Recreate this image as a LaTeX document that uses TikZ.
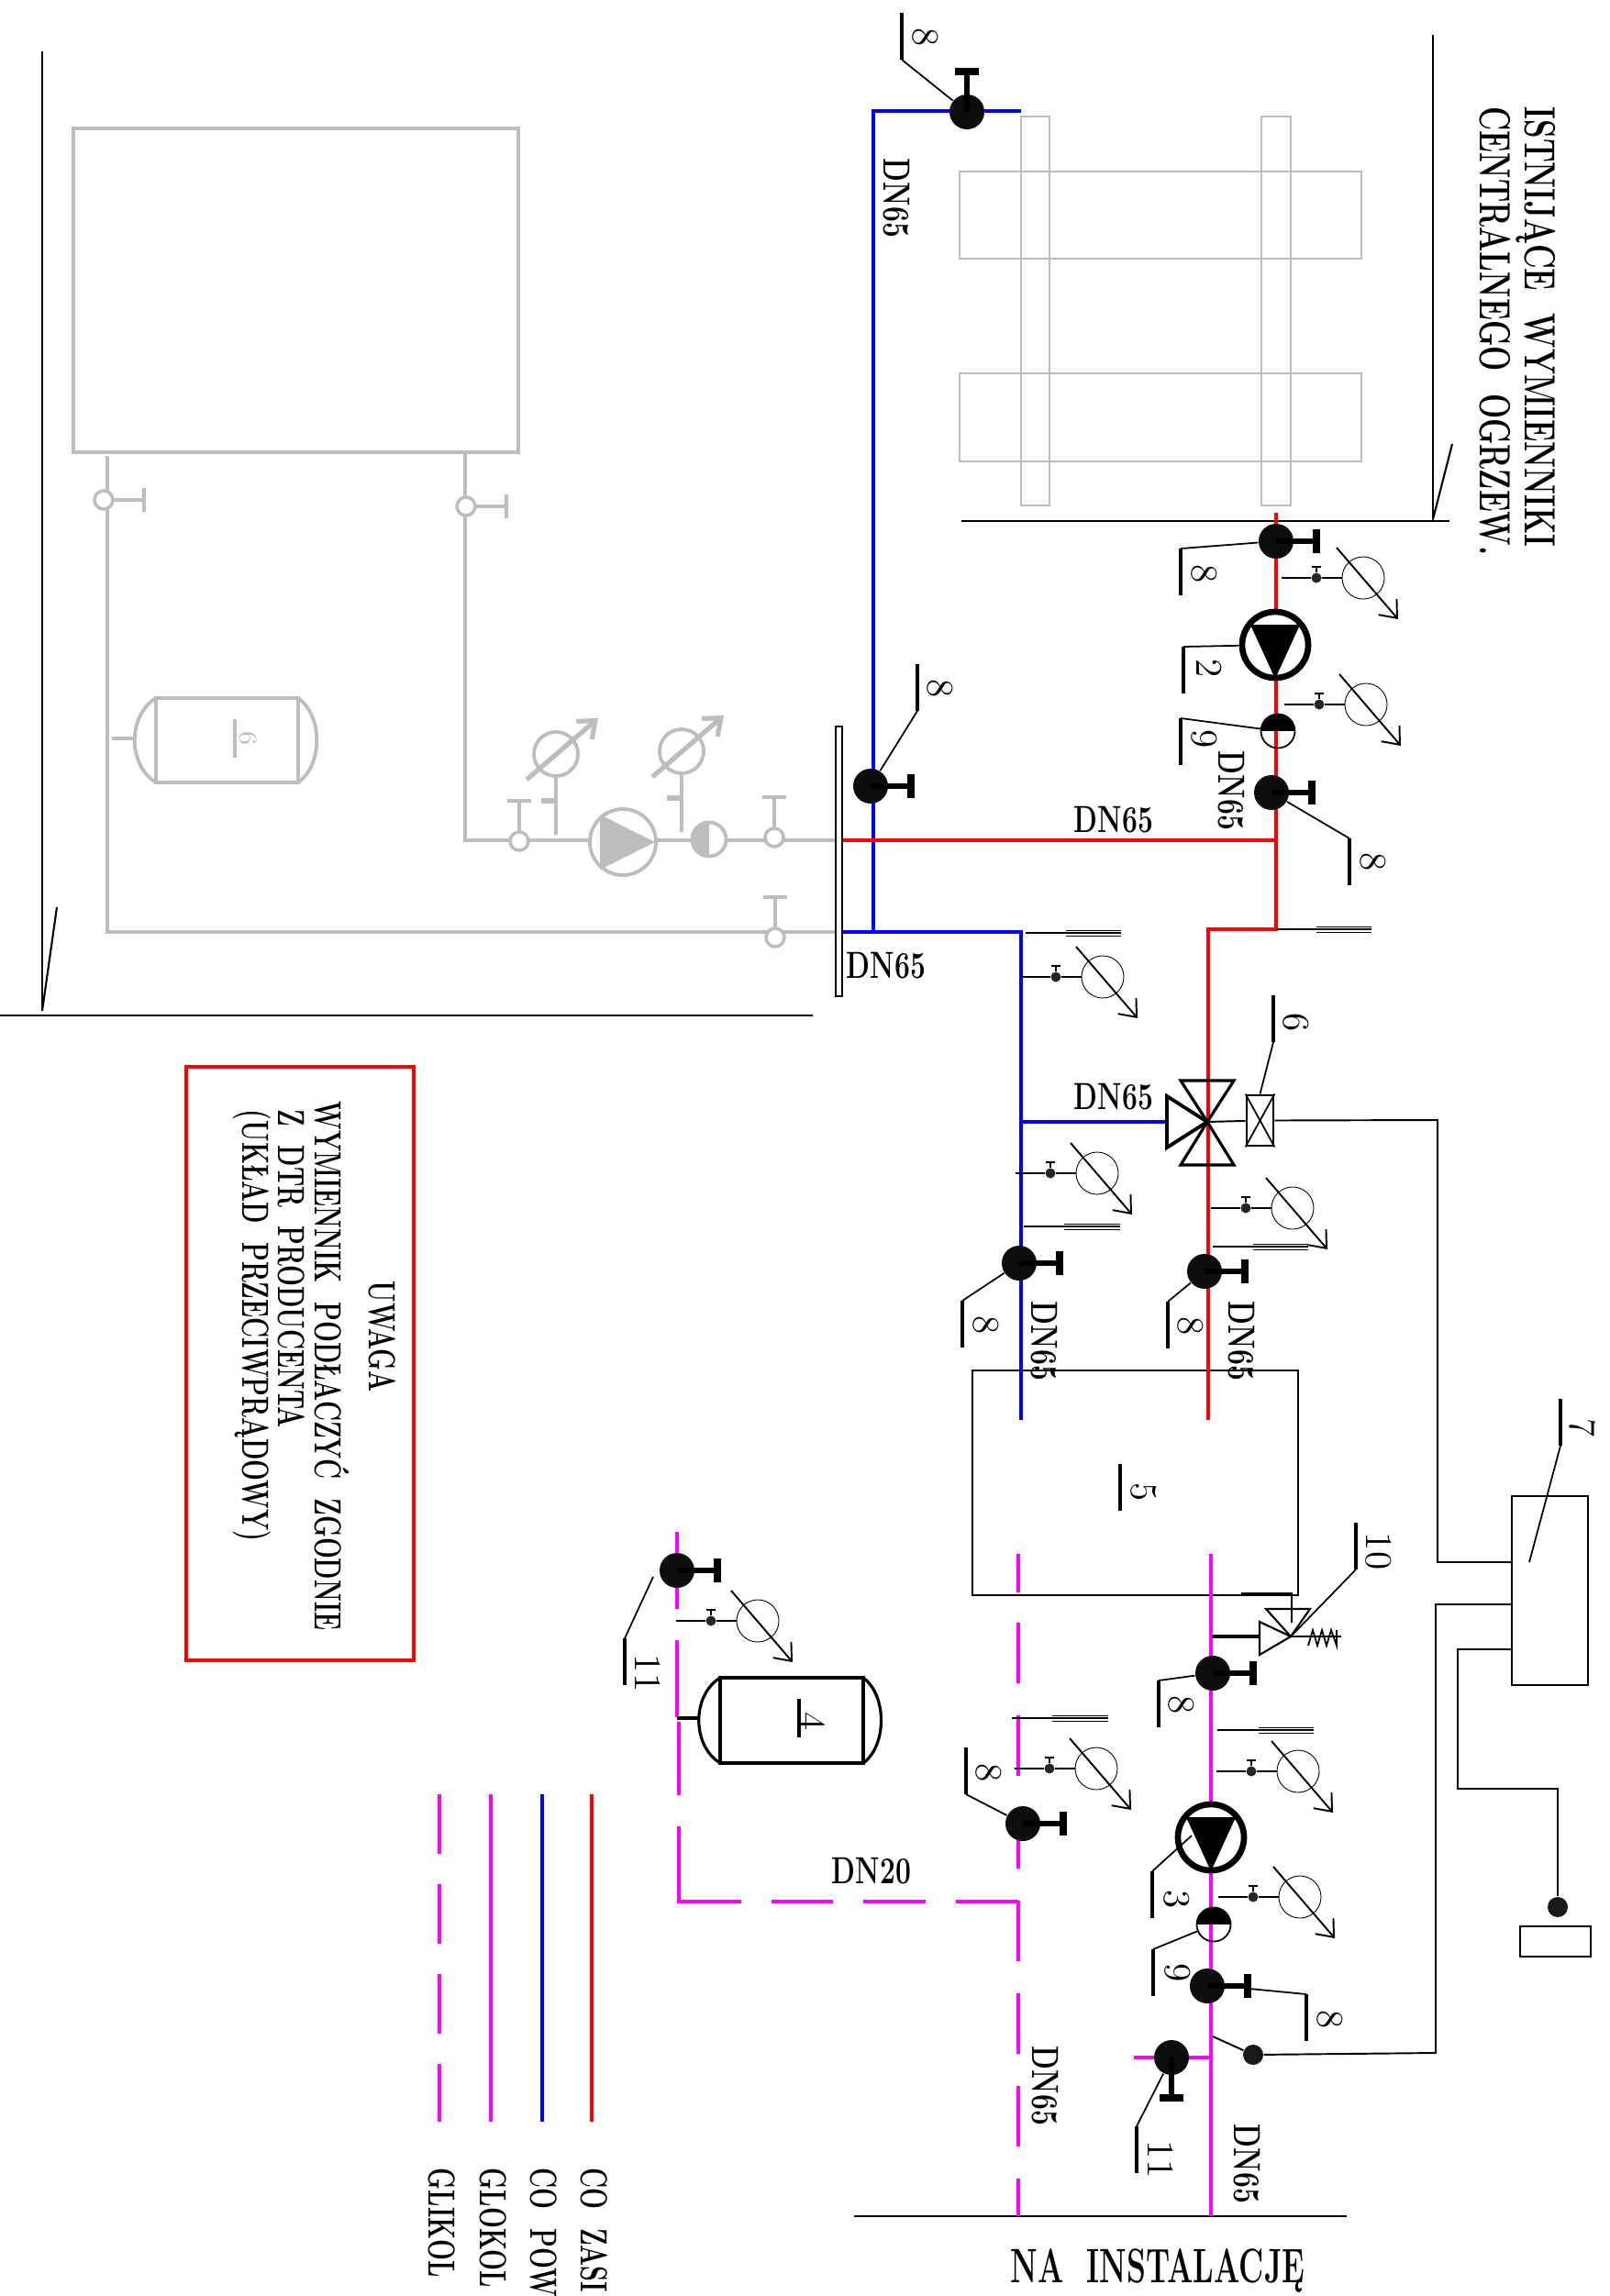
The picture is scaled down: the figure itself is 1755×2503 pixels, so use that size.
\documentclass[tikz,border=0pt]{standalone}
\usepackage{graphicx}
\usepackage{xcolor}
\usepackage{tikz}
\usetikzlibrary{arrows.meta}

\definecolor{greyold}{HTML}{BDBDBD}
\definecolor{glikol}{RGB}{255,0,255}

\newcommand{\cad}[2][.66]{\scalebox{#1}[1]{\bfseries #2}}
\newcommand{\dns}{\cad[.73]{DN65}}

\tikzset{
	lbl/.style={rotate=-90,inner sep=0pt,font=\fontsize{11.7}{14}\selectfont},
	lblh/.style={inner sep=0pt,font=\fontsize{11.7}{14}\selectfont},
	lblbig/.style={rotate=-90,inner sep=0pt,font=\fontsize{13.5}{16}\selectfont},
	pipezas/.style={draw=red,line width=1.4pt},
	pipepow/.style={draw=blue,line width=1.4pt},
	pipegl/.style={draw=glikol,line width=1.4pt},
	pipedash/.style={draw=glikol,line width=1.4pt,dash pattern=on .66cm off .35cm},
	wire/.style={draw=black,line width=.55pt},
	wall/.style={draw=black,line width=.6pt},
	leaderl/.style={draw=black,line width=.5pt},
	tagbar/.style={draw=black,line width=1.2pt},
	oldl/.style={draw=greyold,line width=1.1pt},
	oldthin/.style={draw=greyold,line width=.7pt},
	ballnode/.style={circle,fill=black!95,draw=none,minimum size=.38cm,inner sep=0pt},
	smallv/.style={circle,fill=black!85,draw=none,minimum size=.11cm,inner sep=0pt},
	dotnode/.style={circle,fill=black!90,draw=none,minimum size=.22cm,inner sep=0pt},
	dial/.style={circle,draw=black,line width=.25pt,minimum size=.46cm,inner sep=0pt},
	oldvalve/.style={circle,draw=greyold,line width=1pt,fill=white,minimum size=.2cm,inner sep=0pt},
	olddial/.style={circle,draw=greyold,line width=1.1pt,minimum size=.48cm,inner sep=0pt},
	halfv/.style={circle,draw=black,line width=.5pt,minimum size=.37cm,inner sep=0pt,
		path picture={\fill[black] (path picture bounding box.north west) rectangle (path picture bounding box.east);}},
	oldhalf/.style={circle,draw=greyold,line width=1.1pt,fill=white,minimum size=.37cm,inner sep=0pt,
		path picture={\fill[greyold] (path picture bounding box.north west) rectangle (path picture bounding box.south);}},
	pumpring/.style={circle,draw=black,line width=1.9pt,fill=white,minimum size=.72cm,inner sep=0pt},
	oldring/.style={circle,draw=greyold,line width=1.1pt,fill=white,minimum size=.72cm,inner sep=0pt},
	boxl/.style={draw=black,line width=.55pt,inner sep=0pt},
	tipb/.style={-{Straight Barb[length=1.6mm,width=2.6mm]}}
}

\newcommand{\ballv}[3]{
	\node[ballnode] (#1) at (#2) {};
	\begin{scope}[shift={(#2)},rotate=#3]
		\draw[line width=1.7pt] (0,0) -- (44,0);
		\draw[line width=2.3pt] (44,-13) -- (44,13);
	\end{scope}
}
\newcommand{\gaugeg}[2]{
	\begin{scope}[shift={(#2)}]
		\node[smallv] (#1v) at (38,0) {};
		\node[dial] (#1d) at (89,0) {};
		\draw[wire] (0,0) -- (#1v);
		\draw[wire] (#1v) -- (#1d);
		\draw[line width=.5pt] (#1v) -- (38,-12);
		\draw[line width=.5pt] (33,-12) -- (43,-12);
		\draw[wire,tipb] (60,-33) -- (127,45);
	\end{scope}
}
\newcommand{\marksign}[4]{
	\draw[line width=.6pt] (#1,#4) -- (#3,#4);
	\draw[line width=.25pt] (#2,#4-3) -- (#3,#4-3);
	\draw[line width=.25pt] (#2,#4+3) -- (#3,#4+3);
}
\newcommand{\reftag}[4]{
	\coordinate (#1) at (#2);
	\draw[tagbar] (#1) -- ++(0,51);
	\coordinate (#1b) at ([yshift=-.51cm]#1);
	\node[lbl] (#1t) at (#3) {#4};
}
\newcommand{\pumpn}[2]{
	\node[pumpring] (#1) at (#2) {};
	\begin{scope}[shift={(#2)}]
		\fill[black] (-27,-22) -- (27,-22) -- (0,37) -- cycle;
	\end{scope}
}
\newcommand{\oldvalve}[3]{
	\node[oldvalve] (#1) at (#2) {};
	\begin{scope}[shift={(#2)},rotate=#3]
		\draw[oldl] (11,0) -- (44,0);
		\draw[oldl,line width=1.4pt] (44,-13) -- (44,13);
	\end{scope}
}
\newcommand{\oldgauge}[2]{
	\begin{scope}[shift={(#2)}]
		\node[olddial] (#1) at (0,-88) {};
		\draw[oldl] (0,0) -- (#1);
		\fill[greyold] (0,-37) circle (.055);
		\draw[oldl,line width=1.6pt] (0,-37) -- (-16,-37);
		\draw[oldl,line width=1.5pt,-{Straight Barb[length=1.6mm,width=2.6mm]}] (-32,-60) -- (46,-127);
	\end{scope}
}

\begin{document}
\begin{tikzpicture}[x=.01cm,y=-.01cm]
	\useasboundingbox (0,0) rectangle (1755,2503);

	% walls
	\draw[wall] (1562,38) -- (1562,568);
	\draw[wall] (1048,568) -- (1580,568);
	\draw[wall] (1562,566) -- (1583,484);
	\draw[wall] (46,56) -- (46,1102);
	\draw[wall] (0,1107) -- (886,1107);
	\draw[wall] (46,1102) -- (62,989);
	\draw[wall] (931,2416) -- (1468,2416);

	% old part
	\draw[oldl] (80,140) rectangle (565,493);
	\draw[oldl] (117,497) -- (117,1016) -- (911,1016);
	\draw[oldl] (507,493) -- (507,916) -- (911,916);
	\draw[oldthin] (1113,127) rectangle (1144,551);
	\draw[oldthin] (1375,127) rectangle (1407,551);
	\draw[oldthin] (1046,187) rectangle (1484,282);
	\draw[oldthin] (1046,407) rectangle (1484,503);
	\oldvalve{ov1}{113,545}{0}
	\oldvalve{ov2}{508,552}{0}
	\oldvalve{ov3}{566,917}{90}
	\oldvalve{ov4}{844,913}{90}
	\oldvalve{ov5}{845,1022}{90}
	\oldgauge{og1}{606,910}
	\oldgauge{og2}{743,907}
	\node[oldring] (op1) at (679,918) {};
	\fill[greyold] (654,888) -- (714,918) -- (654,948) -- cycle;
	\node[oldhalf] (oh1) at (773,915) {};
	\draw[oldl] (170,761) rectangle (325,853);
	\draw[oldl] (170,761) .. controls (139,780) and (139,834) .. (170,853);
	\draw[oldl] (325,761) .. controls (352,780) and (352,834) .. (325,853);
	\draw[oldl] (122,805) -- (146,805);
	\draw[oldl] (256,784) -- (256,826);
	\node[lbl,text=greyold,font=\fontsize{8}{10}\selectfont] (og6) at (271,805) {6};
	\node[draw=black,line width=.5pt,fill=white,minimum width=.07cm,minimum height=2.94cm,inner sep=0pt] (plate) at (914.5,939) {};

	% box 5 and controller
	\node[boxl,draw,minimum width=3.55cm,minimum height=2.45cm] (box5) at (1237.5,1616.5) {};
	\node[boxl,draw,minimum width=.83cm,minimum height=2.06cm] (box7) at (1689.5,1734) {};

	% pipes
	\draw[pipepow] (1113,121) -- (952,121) -- (952,1016);
	\draw[pipepow] (plate.east |- 0,1016) -- (1113,1016) -- (1113,1548);
	\draw[pipepow] (1113,1223) -- (1272,1223);
	\draw[pipezas,line width=1.1pt] (plate.east |- 0,916) -- (1391,916);
	\draw[pipezas] (1391,559) -- (1391,1013) -- (1317,1013) -- (1317,1548);
	\draw[pipegl] (1320,1694) -- (1320,2416);
	\draw[pipegl] (1236,2243) -- (1320,2243);
	\draw[pipegl] (1110,1694) -- (1110,1736);
	\draw[pipedash] (1110,1769) -- (1110,2416);
	\draw[pipegl] (738,1670) -- (738,1754);
	\draw[pipegl] (738,1788) -- (738,1872);
	\draw[pipegl] (740,1877) -- (740,1957);
	\draw[pipegl] (740,1991) -- (740,2073) -- (808,2073);
	\draw[pipegl] (841,2073) -- (908,2073);
	\draw[pipegl] (941,2073) -- (1009,2073);
	\draw[pipegl] (1042,2073) -- (1110,2073);

	% valves
	\ballv{v1}{1054,122}{90}
	\ballv{v2}{949,857}{0}
	\ballv{v3}{1391,590}{0}
	\ballv{v4}{1386,864}{0}
	\ballv{v5}{1111,1377}{0}
	\ballv{v6}{1313,1386}{0}
	\ballv{v7}{1322,1824}{0}
	\ballv{v8}{1115,1988}{0}
	\ballv{v9}{1316,2165}{0}
	\ballv{v10}{1277,2243}{-90}
	\ballv{v11}{738,1712}{0}

	% gauges
	\gaugeg{g1}{1397,630}
	\gaugeg{g2}{1400,768}
	\gaugeg{g3}{1113,1065}
	\gaugeg{g4}{1107,1279}
	\gaugeg{g5}{1320,1317}
	\gaugeg{g6}{1326,1931}
	\gaugeg{g7}{1106,1928}
	\gaugeg{g8}{1328,2068}
	\gaugeg{g9}{737,1767}

	% marks
	\marksign{1392}{1435}{1495}{1013}
	\marksign{1118}{1162}{1222}{1017}
	\marksign{1116}{1160}{1221}{1337}
	\marksign{1322}{1366}{1426}{1359}
	\marksign{1327}{1372}{1432}{1886}
	\marksign{1103}{1147}{1208}{1873}

	% pumps
	\pumpn{p2}{1390,703}
	\pumpn{p3}{1320,2003}
	\node[halfv] (h1) at (1393,797) {};
	\node[halfv] (h2) at (1323,2098) {};

	% three way valve
	\coordinate (tv) at (1316,1223);
	\draw[line width=.9pt] (tv) -- (1287,1178) -- (1345,1178) -- cycle;
	\draw[line width=.9pt] (tv) -- (1287,1270) -- (1345,1270) -- cycle;
	\draw[line width=1.1pt] (tv) -- (1272,1195) -- (1272,1251) -- cycle;
	\node[draw,line width=.8pt,minimum width=.29cm,minimum height=.55cm,inner sep=0pt] (act) at (1373.5,1221.5) {};
	\draw[line width=.5pt] (act.north west) -- (act.south east);
	\draw[line width=.5pt] (act.north east) -- (act.south west);
	\draw[wire] (tv) -- (act);

	% safety valve
	\coordinate (sv) at (1407,1784);
	\draw[line width=.6pt] (sv) -- (1380,1754) -- (1428,1754) -- cycle;
	\draw[line width=.6pt] (sv) -- (1373,1768) -- (1373,1804) -- cycle;
	\draw[line width=1.4pt] (1321,1784) -- (1373,1784);
	\draw[wire] (1353,1737) -- (1408,1737) -- (1408,1769);
	\draw[wire] (sv) -- (1462,1784);
	\draw[line width=.5pt] (1426,1794) -- (1431,1777) -- (1436,1794) -- (1441,1777) -- (1446,1794) -- (1451,1777) -- (1457,1794) -- (1457,1777);

	% tank
	\draw[line width=.9pt] (785,1829) rectangle (941,1922);
	\draw[line width=.9pt] (785,1829) .. controls (754,1848) and (754,1903) .. (785,1922);
	\draw[line width=.9pt] (941,1829) .. controls (967,1848) and (967,1903) .. (941,1922);
	\draw[line width=1.2pt] (738,1873) -- (762,1873);

	% wires
	\coordinate (w1) at (box7.west |- 0,1703);
	\coordinate (w2) at (box7.west |- 0,1749);
	\coordinate (w3) at (box7.west |- 0,1798);
	\coordinate (tap) at (1322,2220);
	\node[dotnode] (s1) at (1366,2240) {};
	\node[dotnode] (s2) at (1698,2079) {};
	\node[boxl,draw,minimum width=.77cm,minimum height=.33cm] (s2box) at (1695.5,2116.5) {};
	\draw[wire] (act.east) -- (1567,1221) -- (1567,1703) -- (w1);
	\draw[wire] (w2) -- (1565,1749) -- (1565,2238) -- (s1);
	\draw[wire] (w3) -- (1589,1798) -- (1589,1950) -- (1698,1950) -- (s2);
	\draw[wire] (tap) -- (s1);

	% tags
	\coordinate (q1) at (1667,1703);
	\coordinate (q2) at (1299,2001);
	\coordinate (q3) at (1362,2168);
	\coordinate (q4) at (712,1719);
	\reftag{t1}{983,14}{1009,41}{8}
	\draw[leaderl] (v1) -- (t1b);
	\reftag{t2}{1000,724}{1025,751}{8}
	\draw[leaderl] (v2) -- (t2b);
	\reftag{t3}{1287,598}{1313,626}{8}
	\draw[leaderl] (v3) -- (t3);
	\reftag{t4}{1290,705}{1318,729}{2}
	\draw[leaderl] (p2) -- (t4);
	\reftag{t5}{1287,783}{1313,806}{9}
	\draw[leaderl] (h1) -- (t5);
	\reftag{t6}{1471,914}{1497,940}{8}
	\draw[leaderl] (v4) -- (t6);
	\reftag{t7}{1388,1085}{1413,1115}{6}
	\draw[leaderl] (act.north) -- (t7b);
	\reftag{t8}{1049,1418}{1075,1445}{8}
	\draw[leaderl] (v5) -- (t8);
	\reftag{t9}{1273,1419}{1298,1446}{8}
	\draw[leaderl] (v6) -- (t9);
	\reftag{t10}{1701,1525}{1725,1557}{7}
	\draw[leaderl] (q1) -- (t10b);
	\reftag{t11}{1478,1660}{1503,1691}{10}
	\draw[leaderl] (sv) -- (t11b);
	\reftag{t12}{1263,1832}{1288,1859}{8}
	\draw[leaderl] (v7) -- (t12);
	\reftag{t13}{1053,1905}{1078,1933}{8}
	\draw[leaderl] (v8) -- (t13b);
	\reftag{t14}{1256,2040}{1283,2071}{3}
	\draw[leaderl] (q2) -- (t14);
	\reftag{t15}{1257,2125}{1284,2151}{9}
	\draw[leaderl] (h2) -- (t15);
	\reftag{t16}{1424,2174}{1450,2202}{8}
	\draw[leaderl] (q3) -- (t16);
	\reftag{t17}{1239,2318}{1265,2354}{11}
	\draw[leaderl] (v10) -- (t17);
	\reftag{t18}{681,1786}{706,1824}{11}
	\draw[leaderl] (q4) -- (t18);
	\reftag{t19}{1221,1596}{1247,1627}{5}
	\draw[tagbar] (871,1852) -- (871,1894);
	\node[lbl] (t20) at (885,1877) {4};

	% pipe sizes
	\node[lbl] (d1) at (977,216) {\dns};
	\node[lbl] (d2) at (1342,862) {\dns};
	\node[lbl] (d3) at (1138,1462) {\dns};
	\node[lbl] (d4) at (1353,1462) {\dns};
	\node[lbl] (d5) at (1139,2274) {\dns};
	\node[lbl] (d6) at (1359,2359) {\dns};
	\node[lblh] (d7) at (1214,894) {\dns};
	\node[lblh] (d8) at (1214,1196) {\dns};
	\node[lblh] (d9) at (966,1053) {\dns};
	\node[lblh] (d10) at (950,2040) {\cad[.73]{DN20}};

	% texts
	\node[lblbig,anchor=west] (txt1) at (1674,116) {\cad[.695]{ISTNIJĄCE\ \ WYMIENNIKI}};
	\node[lblbig,anchor=west] (txt2) at (1630,116) {\cad[.68]{CENTRALNEGO\ \ OGRZEW.}};
	\node[inner sep=0pt,font=\fontsize{15}{18}\selectfont] (txt3) at (1262,2475) {\cad[.635]{NA\ \ INSTALACJĘ}};

	% note
	\draw[draw=red,line width=1.2pt] (203,1163) rectangle (451,1810);
	\node[lbl] (n1) at (417,1457) {\cad{UWAGA}};
	\node[lbl,anchor=west] (n2) at (362,1200) {\cad{WYMIENNIK\ \ PODŁACZYĆ\ \ ZGODNIE}};
	\node[lbl,anchor=west] (n3) at (318,1209) {\cad{Z\ \ DTR\ \ PRODUCENTA}};
	\node[lbl,anchor=west] (n4) at (275,1209) {\cad{(UKŁAD\ \ PRZECIWPRĄDOWY)}};

	% legend
	\draw[pipezas] (645,1956) -- (645,2313);
	\draw[pipepow] (591,1956) -- (591,2313);
	\draw[pipegl] (535,1956) -- (535,2313);
	\draw[pipegl,line width=1pt,dash pattern=on .65cm off .33cm] (479,1956) -- (479,2313);
	\node[lbl,anchor=west] (leg1) at (648,2363) {\cad{CO\ \ ZASI}};
	\node[lbl,anchor=west] (leg2) at (593,2363) {\cad{CO\ \ POW}};
	\node[lbl,anchor=west] (leg3) at (538,2363) {\cad{GLOKOL}};
	\node[lbl,anchor=west] (leg4) at (482,2363) {\cad{GLIKOL}};
\end{tikzpicture}
\end{document}
